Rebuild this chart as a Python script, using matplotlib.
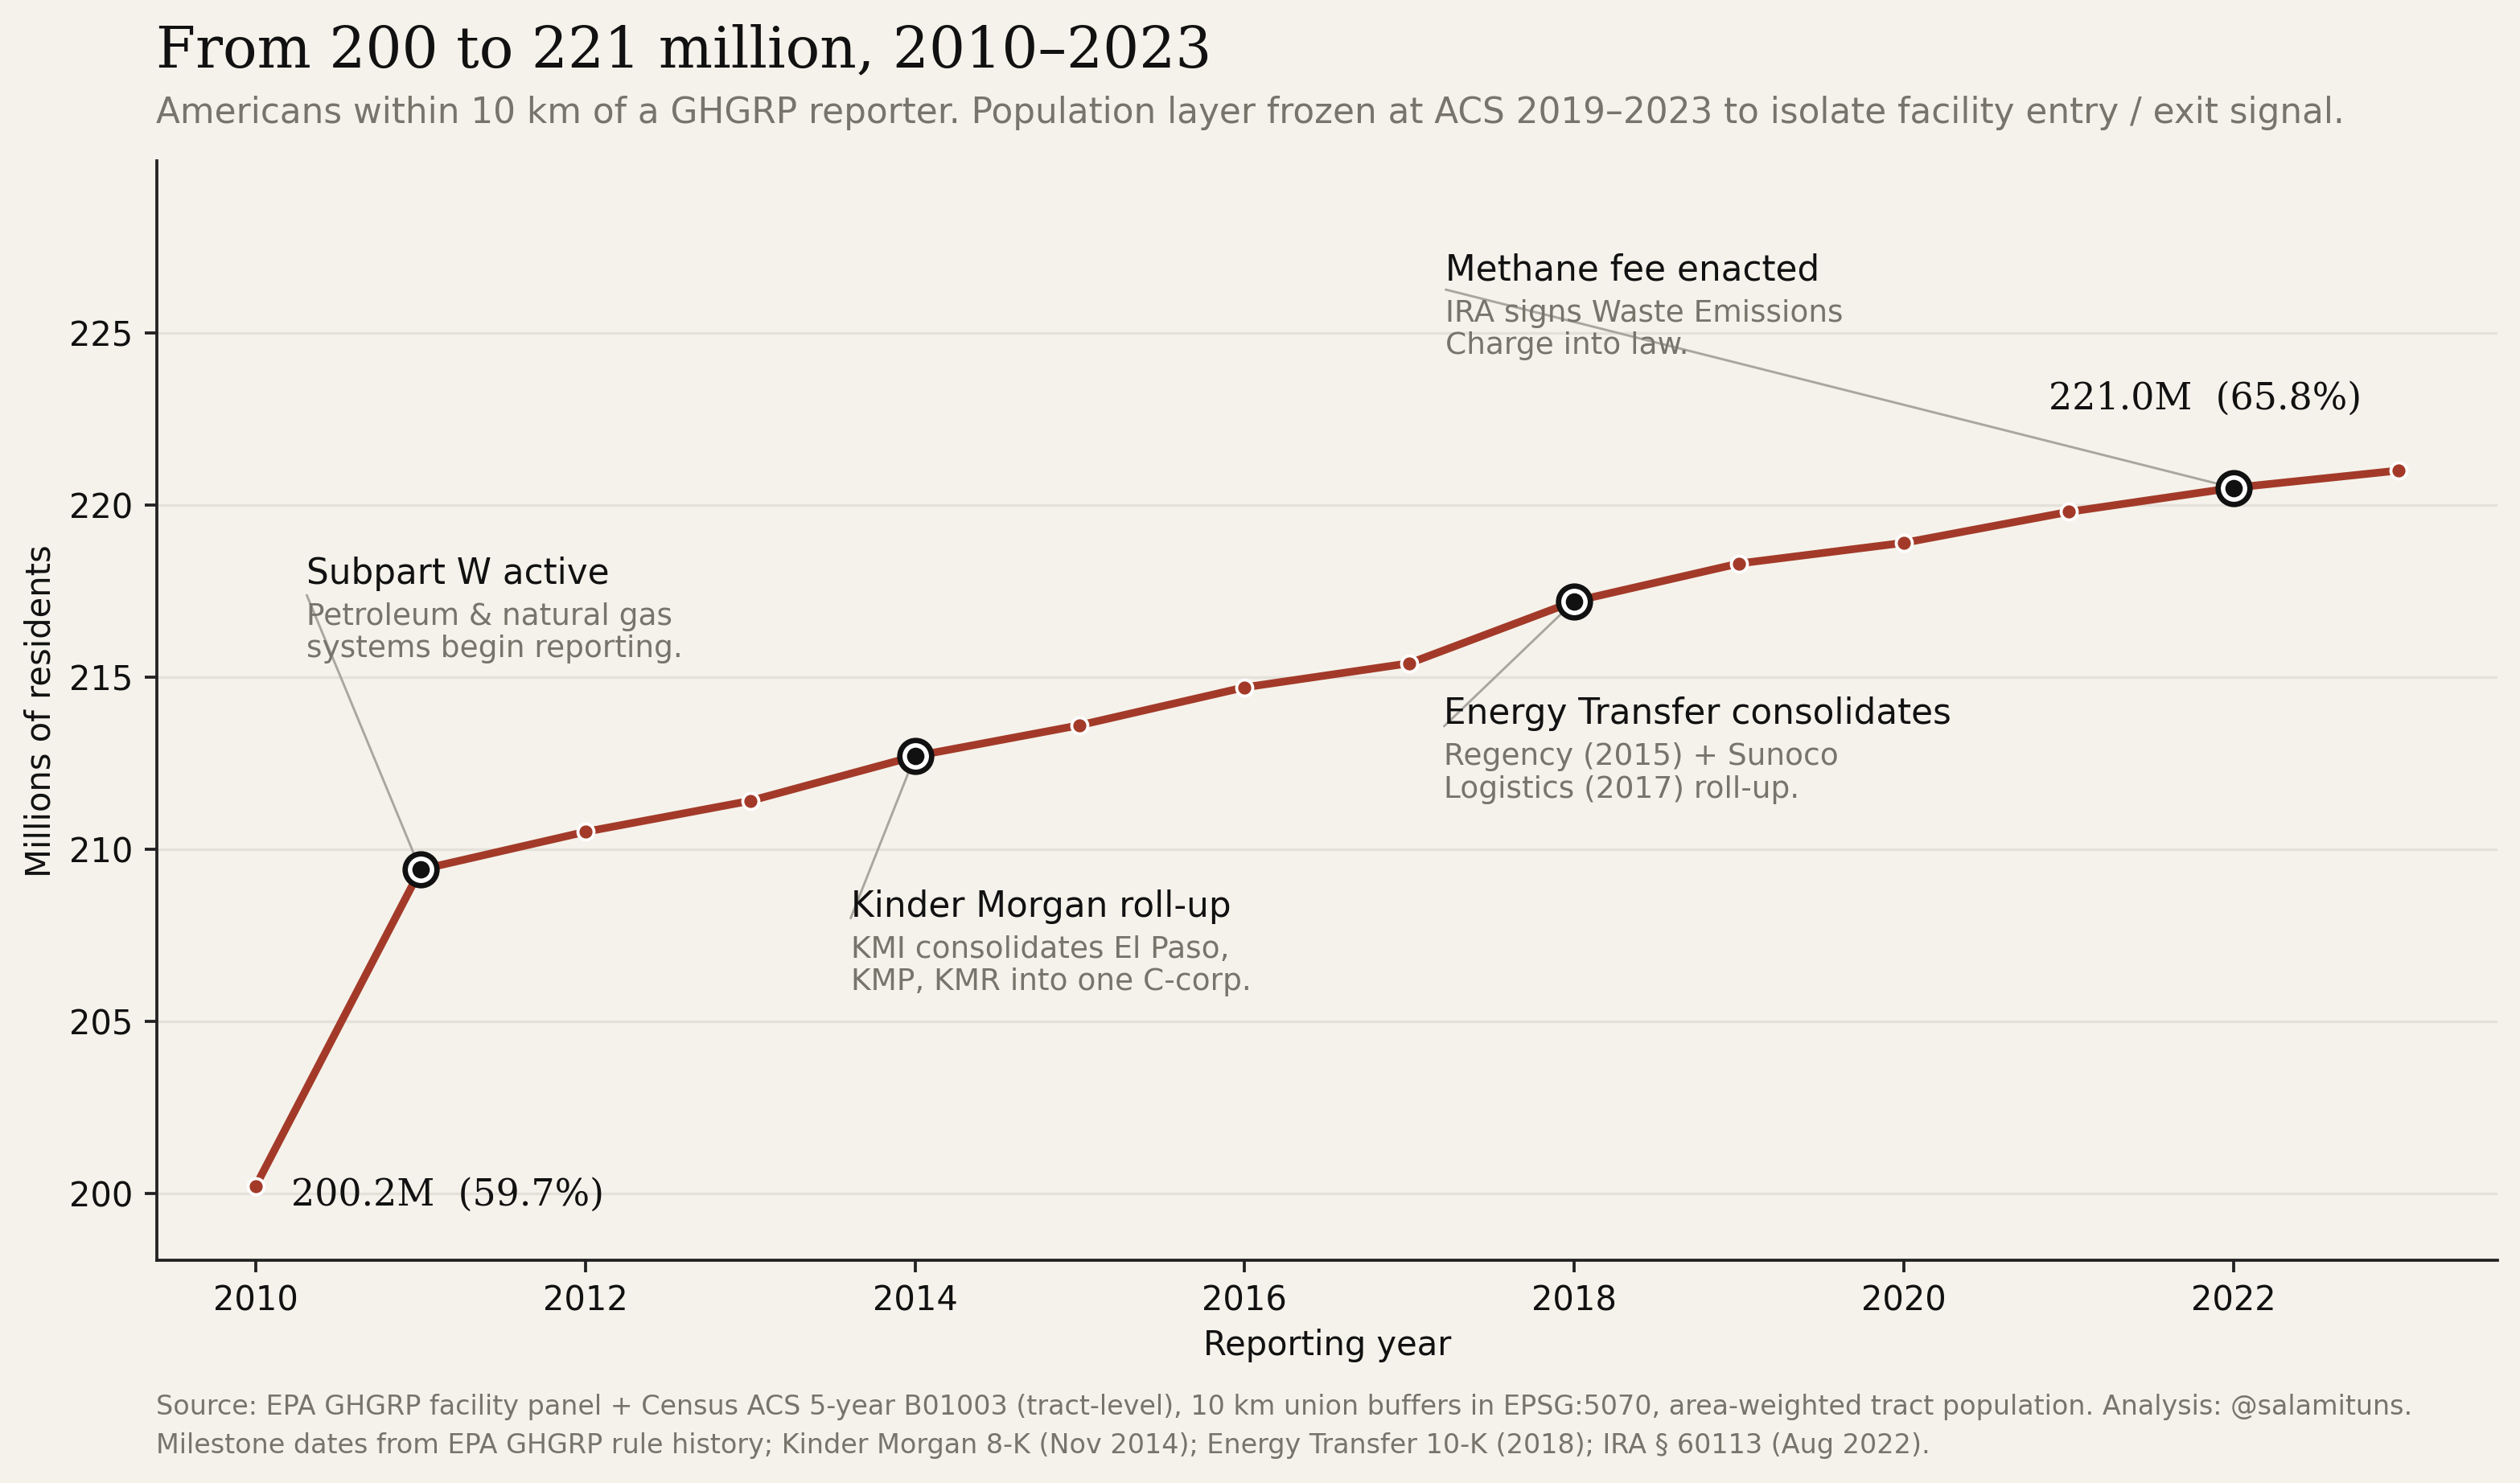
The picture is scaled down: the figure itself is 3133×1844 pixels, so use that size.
import matplotlib
matplotlib.use("Agg")
import matplotlib.pyplot as plt

years = [2010, 2011, 2012, 2013, 2014, 2015, 2016, 2017, 2018, 2019, 2020, 2021, 2022, 2023]
residents_m = [200.2, 209.4, 210.5, 211.4, 212.7, 213.6, 214.7, 215.4, 217.2, 218.3, 218.9, 219.8, 220.5, 221.0]
share_pct = {2010: 59.7, 2023: 65.8}

milestone_years = [2011, 2014, 2018, 2022]
milestone_heads = ["Subpart W active", "Kinder Morgan roll-up",
                   "Energy Transfer consolidates", "Methane fee enacted"]
milestone_bodies = ["Petroleum & natural gas\nsystems begin reporting.",
                    "KMI consolidates El Paso,\nKMP, KMR into one C-corp.",
                    "Regency (2015) + Sunoco\nLogistics (2017) roll-up.",
                    "IRA signs Waste Emissions\nCharge into law."]
# where each label block sits (heading baseline), and where its leader line starts
label_xy = [(2010.31, 217.71), (2013.61, 208.04), (2017.21, 213.64), (2017.22, 226.52)]
leader_start = [(2010.31, 217.38), (2013.61, 207.99), (2017.21, 213.57), (2017.22, 226.26)]

BG = "#f5f2eb"
RED = "#a33a29"
INK = "#111111"
GREY = "#77746b"

fig = plt.figure(figsize=(3133 / 300, 1844 / 300), dpi=300, facecolor=BG)
ax = fig.add_axes([0.0622, 0.150, 0.9288, 0.7415], facecolor=BG)

ax.plot(years, residents_m, color=RED, lw=2.3, zorder=3, solid_capstyle="round")
ax.plot(years, residents_m, "o", ms=4.8, color=RED, mec="white", mew=0.9, zorder=4)

for i, yr in enumerate(milestone_years):
    val = residents_m[years.index(yr)]
    ax.plot([yr], [val], "o", ms=9.5, mfc="white", mec=INK, mew=1.6, zorder=5)
    ax.plot([yr], [val], "o", ms=4.2, color=INK, zorder=6)
    ax.annotate("", xy=(yr, val), xytext=leader_start[i],
                arrowprops=dict(arrowstyle="-", color="#a8a69f", lw=0.7,
                                shrinkA=0, shrinkB=5))
    tx, ty = label_xy[i]
    ax.text(tx, ty, milestone_heads[i], fontsize=10.5, color=INK,
            ha="left", va="baseline", zorder=7)
    ax.annotate(milestone_bodies[i], xy=(tx, ty), xytext=(0, -5.6),
                textcoords="offset points", fontsize=9, color=GREY,
                ha="left", va="top", linespacing=1.15, zorder=7)

ax.annotate(f"{residents_m[0]:.1f}M  ({share_pct[2010]:.1f}%)",
            xy=(years[0], residents_m[0]), xytext=(10.5, -2.6),
            textcoords="offset points", ha="left", va="center",
            fontsize=11, family="DejaVu Serif", color=INK)
ax.annotate(f"{residents_m[-1]:.1f}M  ({share_pct[2023]:.1f}%)",
            xy=(years[-1], residents_m[-1]), xytext=(-11, 16),
            textcoords="offset points", ha="right", va="bottom",
            fontsize=11, family="DejaVu Serif", color=INK)

ax.set_xlim(2009.4, 2023.6)
ax.set_ylim(198.04, 230)
ax.set_xticks(range(2010, 2023, 2))
ax.set_yticks(range(200, 226, 5))
ax.grid(axis="y", color="#e4e1da", lw=0.8, zorder=0)
ax.set_axisbelow(True)
for s in ["top", "right"]:
    ax.spines[s].set_visible(False)
for s in ["left", "bottom"]:
    ax.spines[s].set_color("#222222")
    ax.spines[s].set_linewidth(0.9)
ax.tick_params(colors="#222222", labelsize=10, labelcolor=INK, width=0.9)
ax.set_xlabel("Reporting year", fontsize=10, color=INK, labelpad=3.2)
ax.set_ylabel("Millions of residents", fontsize=10, color=INK, labelpad=3.5)

fig.text(0.062, 0.955, "From 200 to 221 million, 2010\u20132023", fontsize=17,
         family="DejaVu Serif", color=INK, va="baseline")
fig.text(0.062, 0.917, "Americans within 10 km of a GHGRP reporter. Population layer frozen at "
         "ACS 2019\u20132023 to isolate facility entry / exit signal.",
         fontsize=10.5, color=GREY, va="baseline")
fig.text(0.062, 0.046, "Source: EPA GHGRP facility panel + Census ACS 5-year B01003 (tract-level), "
         "10 km union buffers in EPSG:5070, area-weighted tract population. Analysis: @salamituns.",
         fontsize=8.0, color=GREY, va="baseline")
fig.text(0.062, 0.020, "Milestone dates from EPA GHGRP rule history; Kinder Morgan 8-K (Nov 2014); "
         "Energy Transfer 10-K (2018); IRA \u00a7 60113 (Aug 2022).",
         fontsize=8.0, color=GREY, va="baseline")

fig.savefig("out.png", dpi=300, facecolor=BG)
